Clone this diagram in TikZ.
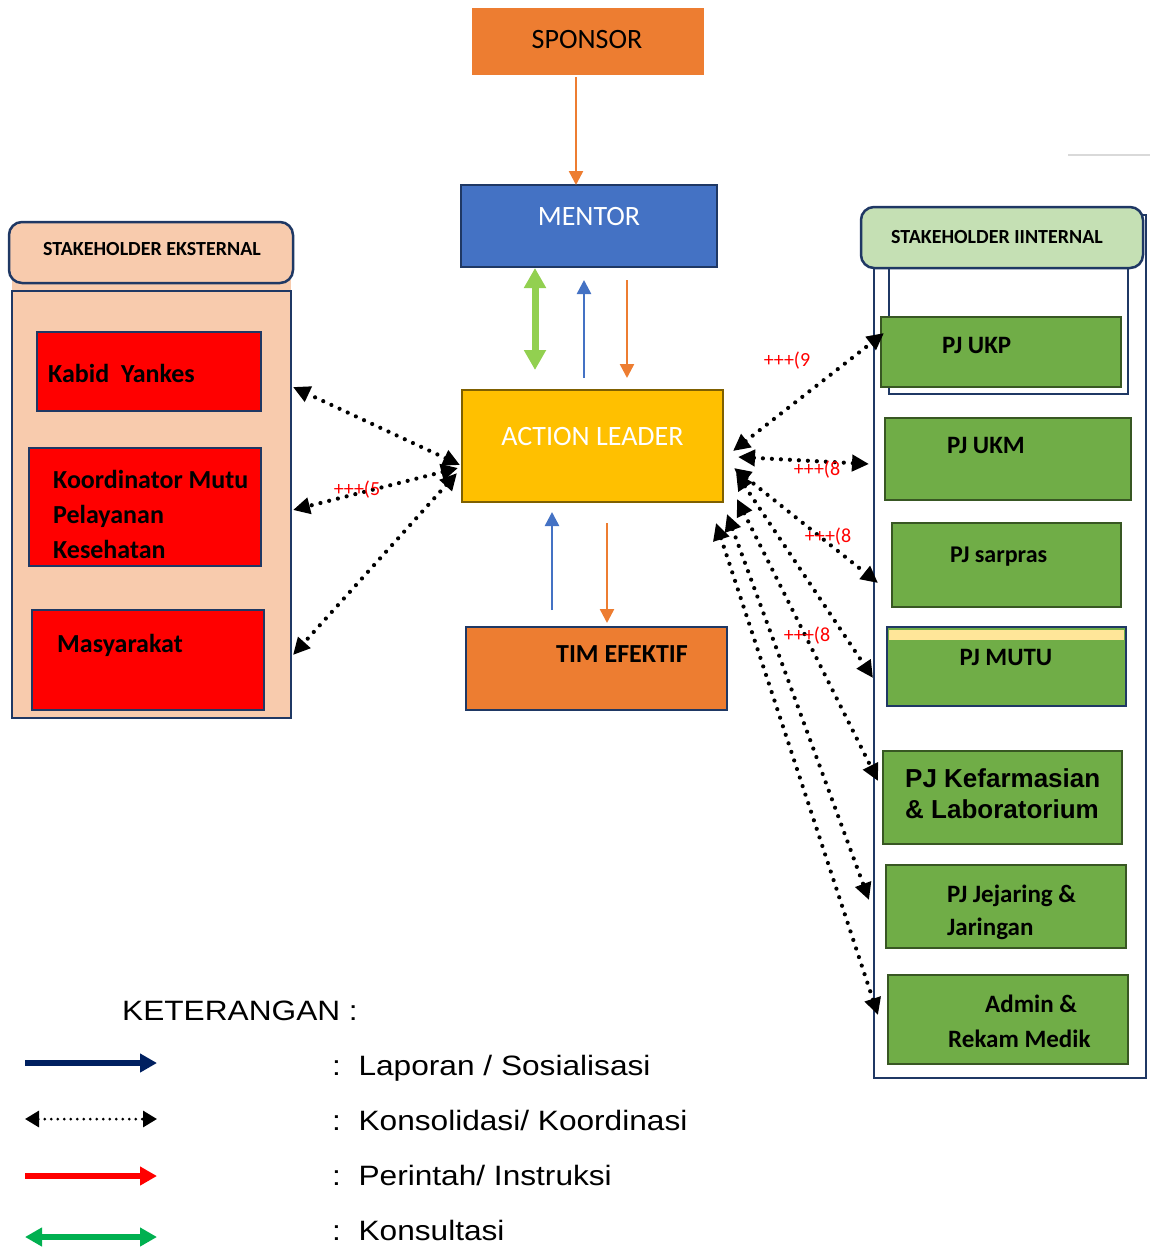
\documentclass[tikz,border=0pt]{standalone}
\usepackage{fontspec}
\setmainfont{Carlito}
\newfontfamily\arialfont{Liberation Sans}
\newfontfamily\legfont[FakeStretch=1.13]{Liberation Sans}
\usetikzlibrary{arrows.meta}
\newcommand\fsz[1]{\fontsize{#1}{#1}\selectfont}
\definecolor{cOrange}{HTML}{ED7D31}
\definecolor{cBlue}{HTML}{4472C4}
\definecolor{cNavy}{HTML}{1F3864}
\definecolor{cGold}{HTML}{FFC000}
\definecolor{cGoldB}{HTML}{7F6000}
\definecolor{cGreen}{HTML}{70AD47}
\definecolor{cGreenB}{HTML}{385723}
\definecolor{cLGreen}{HTML}{C5E0B4}
\definecolor{cPeach}{HTML}{F8CBAD}
\definecolor{cRed}{HTML}{FF0000}
\definecolor{cLime}{HTML}{92D050}
\definecolor{cYellow}{HTML}{FFE699}
\definecolor{cLegNavy}{HTML}{002060}
\definecolor{cLegGreen}{HTML}{00B050}
\begin{document}
\begin{tikzpicture}[x=1pt,y=-1pt,
  box/.style={draw, line width=2.5pt, inner sep=0pt, outer sep=0pt, anchor=north west},
  txt/.style={anchor=base west, inner sep=0pt},
  ctxt/.style={anchor=base, inner sep=0pt},
  dotarrow/.style={line width=4.2pt, line cap=round, dash pattern=on 0pt off 9pt,
    {Triangle[length=17pt,width=16pt]}-{Triangle[length=17pt,width=16pt]}},
  lab/.style={text=red, font=\fsz{20}, inner sep=0pt},
  carrow/.style={line width=2.5pt, -{Triangle[length=14pt,width=14pt]}},
  legarrow/.style={line width=5.5pt, -{Triangle[length=17pt,width=18pt]}}
]
\useasboundingbox (0,0) rectangle (1150,1248);

% top right grey line
\draw[black!15, line width=2pt] (1068,155) -- (1150,155);

% centre column
\node[box, draw=none, fill=cOrange, minimum width=232pt, minimum height=67pt] (sponsor) at (472,8) {};
\node[ctxt, font=\fsz{28}] (tsponsor) at (587,48) {SPONSOR};

\node[box, draw=cNavy, fill=cBlue, minimum width=256pt, minimum height=82pt] (mentor) at (461,185) {};
\node[ctxt, font=\fsz{28}, text=white] (tmentor) at (589,225) {MENTOR};

\node[box, draw=cGoldB, fill=cGold, minimum width=261pt, minimum height=112pt] (al) at (462,390) {};
\node[ctxt, font=\fsz{28}, text=white] (tal) at (592.5,445) {ACTION LEADER};

\node[box, draw=cNavy, fill=cOrange, minimum width=261pt, minimum height=83pt] (tim) at (466,627) {};
\node[ctxt, font=\bfseries\fsz{26}] (ttim) at (622,662) {TIM EFEKTIF};

\draw[carrow, cOrange] ([shift={(-12,2)}]sponsor.south) -- ([xshift=-13]mentor.north);
\draw[line width=7pt, cLime, {Triangle[length=20pt,width=21pt]}-{Triangle[length=20pt,width=21pt]}]
  ([shift={(-54,1)}]mentor.south) -- ([shift={(-57.5,-20)}]al.north);
\draw[carrow, cBlue] ([shift={(-8.5,-12)}]al.north) -- ([shift={(-5,13)}]mentor.south);
\draw[carrow, cOrange] ([shift={(38,13)}]mentor.south) -- ([shift={(34.5,-12)}]al.north);
\draw[carrow, cBlue] ([shift={(-44.5,-17)}]tim.north) -- ([shift={(-40.5,10)}]al.south);
\draw[carrow, cOrange] ([shift={(14.5,21)}]al.south) -- ([shift={(10.5,-4)}]tim.north);

% external stakeholders
\fill[cPeach] (12,280) rectangle (291,292);
\node[box, draw=cNavy, fill=cPeach, minimum width=279pt, minimum height=427pt] (extbox) at (12,291) {};
\node[box, draw=cNavy, fill=cPeach, rounded corners=13pt, minimum width=284pt, minimum height=61pt] (exthead) at (9,222) {};
\node[ctxt, font=\bfseries\fsz{20}] (texthead) at (152,255) {STAKEHOLDER EKSTERNAL};

\node[box, draw=cNavy, fill=cRed, minimum width=224pt, minimum height=79pt] (kabid) at (37,332) {};
\node[txt, font=\bfseries\fsz{26}] (tkabid) at (48,382) {Kabid\ \ Yankes};

\node[box, draw=cNavy, fill=cRed, minimum width=232pt, minimum height=118pt] (koord) at (29,448) {};
\node[txt, font=\bfseries\fsz{26}] (tkoord1) at (53,488) {Koordinator Mutu};
\node[txt, font=\bfseries\fsz{26}] (tkoord2) at (53,523) {Pelayanan};
\node[txt, font=\bfseries\fsz{26}] (tkoord3) at (53,558) {Kesehatan};

\node[box, draw=cNavy, fill=cRed, minimum width=232pt, minimum height=100pt] (masy) at (32,610) {};
\node[txt, font=\bfseries\fsz{26}] (tmasy) at (57,652) {Masyarakat};

% internal stakeholders
\node[box, draw=cNavy, fill=white, minimum width=272pt, minimum height=863pt] (intbox) at (874,215) {};
\node[box, draw=cNavy, fill=white, minimum width=239pt, minimum height=132pt] (ukpframe) at (889,262) {};
\node[box, draw=cNavy, fill=cLGreen, rounded corners=13pt, minimum width=282pt, minimum height=61pt] (inthead) at (861,207) {};
\node[ctxt, font=\bfseries\fsz{20}] (tinthead) at (997,243) {STAKEHOLDER IINTERNAL};

\node[box, draw=cGreenB, fill=cGreen, minimum width=240pt, minimum height=70pt] (ukp) at (881,317) {};
\node[txt, font=\bfseries\fsz{25}] (tukp) at (942,353) {PJ UKP};

\node[box, draw=cGreenB, fill=cGreen, minimum width=246pt, minimum height=82pt] (ukm) at (885,418) {};
\node[txt, font=\bfseries\fsz{25}] (tukm) at (947,453) {PJ UKM};

\node[box, draw=cGreenB, fill=cGreen, minimum width=229pt, minimum height=84pt] (sarpras) at (892,523) {};
\node[txt, font=\bfseries\fsz{24}] (tsarpras) at (950,562) {PJ sarpras};

\node[box, draw=cNavy, fill=cGreen, minimum width=239pt, minimum height=79pt] (mutu) at (887,627) {};
\fill[cYellow] (889,630) rectangle (1124,640);
\node[ctxt, font=\bfseries\fsz{25}] (tmutu) at (1006,665) {PJ MUTU};

\node[box, draw=cGreenB, fill=cGreen, minimum width=239pt, minimum height=93pt] (kef) at (883,751) {};
\node[txt, font=\arialfont\bfseries\fsz{26}] (tkef1) at (905,787) {PJ Kefarmasian};
\node[txt, font=\arialfont\bfseries\fsz{26}] (tkef2) at (905,818) {\& Laboratorium};

\node[box, draw=cGreenB, fill=cGreen, minimum width=240pt, minimum height=83pt] (jej) at (886,865) {};
\node[txt, font=\bfseries\fsz{25}] (tjej1) at (947,902) {PJ Jejaring \&};
\node[txt, font=\bfseries\fsz{25}] (tjej2) at (947,935) {Jaringan};

\node[box, draw=cGreenB, fill=cGreen, minimum width=240pt, minimum height=89pt] (admin) at (888,975) {};
\node[txt, font=\bfseries\fsz{25}] (tadmin1) at (985,1012) {Admin \&};
\node[txt, font=\bfseries\fsz{25}] (tadmin2) at (948,1047) {Rekam Medik};

% dotted coordination arrows (left)
\draw[dotarrow] ([shift={(-2,19)}]al.west) -- ([shift={(32,15.5)}]kabid.east);
\draw[dotarrow] ([shift={(-4,22)}]al.west) -- ([shift={(32,3)}]koord.east);
\draw[dotarrow] ([shift={(-5,27)}]al.west) -- ([shift={(29,-5)}]masy.east);

% dotted coordination arrows (right)
\draw[dotarrow] ([shift={(10,5)}]al.east) -- ([shift={(3,-19)}]ukp.west);
\draw[dotarrow] ([shift={(15,11)}]al.east) -- ([shift={(-16,5)}]ukm.west);
\draw[dotarrow] ([shift={(11,22)}]al.east) -- ([shift={(-14,18)}]sarpras.west);
\draw[dotarrow] ([shift={(13,27)}]al.east) -- ([shift={(-14,11.5)}]mutu.west);
\draw[dotarrow] ([shift={(14,53)}]al.east) -- ([shift={(-5,-16.5)}]kef.west);
\draw[dotarrow] ([shift={(4,68)}]al.east) -- ([shift={(-17,-6.5)}]jej.west);
\draw[dotarrow] ([shift={(-7,77)}]al.east) -- ([shift={(-10,-4.5)}]admin.west);

% red labels
\node[lab] (l9) at (787,361) {+++(9};
\node[lab] (l8a) at (817,470) {+++(8};
\node[lab] (l8b) at (828,537) {+++(8};
\node[lab] (l8c) at (807,636) {+++(8};
\node[lab] (l5) at (357,490) {+++(5};

% legend
\node[txt, font=\legfont\fsz{28}] (tket) at (122,1020) {KETERANGAN :};
\coordinate (la1) at (25,1063); \coordinate (lb1) at (157,1063);
\coordinate (la2) at (25,1119); \coordinate (lb2) at (157,1119);
\coordinate (la3) at (25,1176); \coordinate (lb3) at (157,1176);
\coordinate (la4) at (25,1237); \coordinate (lb4) at (157,1237);
\draw[legarrow, cLegNavy] (la1) -- (lb1);
\draw[line width=3pt, line cap=round, dash pattern=on 0pt off 6.5pt,
  {Triangle[length=14pt,width=16pt]}-{Triangle[length=14pt,width=16pt]}] (la2) -- (lb2);
\draw[legarrow, cRed] (la3) -- (lb3);
\draw[line width=5.5pt, cLegGreen, {Triangle[length=17pt,width=18pt]}-{Triangle[length=17pt,width=18pt]}] (la4) -- (lb4);
\node[txt, font=\legfont\fsz{28}] (tl1) at (332,1075) {:\ \ Laporan / Sosialisasi};
\node[txt, font=\legfont\fsz{28}] (tl2) at (332,1130) {:\ \ Konsolidasi/ Koordinasi};
\node[txt, font=\legfont\fsz{28}] (tl3) at (332,1185) {:\ \ Perintah/ Instruksi};
\node[txt, font=\legfont\fsz{28}] (tl4) at (332,1240) {:\ \ Konsultasi};
\end{tikzpicture}
\end{document}
